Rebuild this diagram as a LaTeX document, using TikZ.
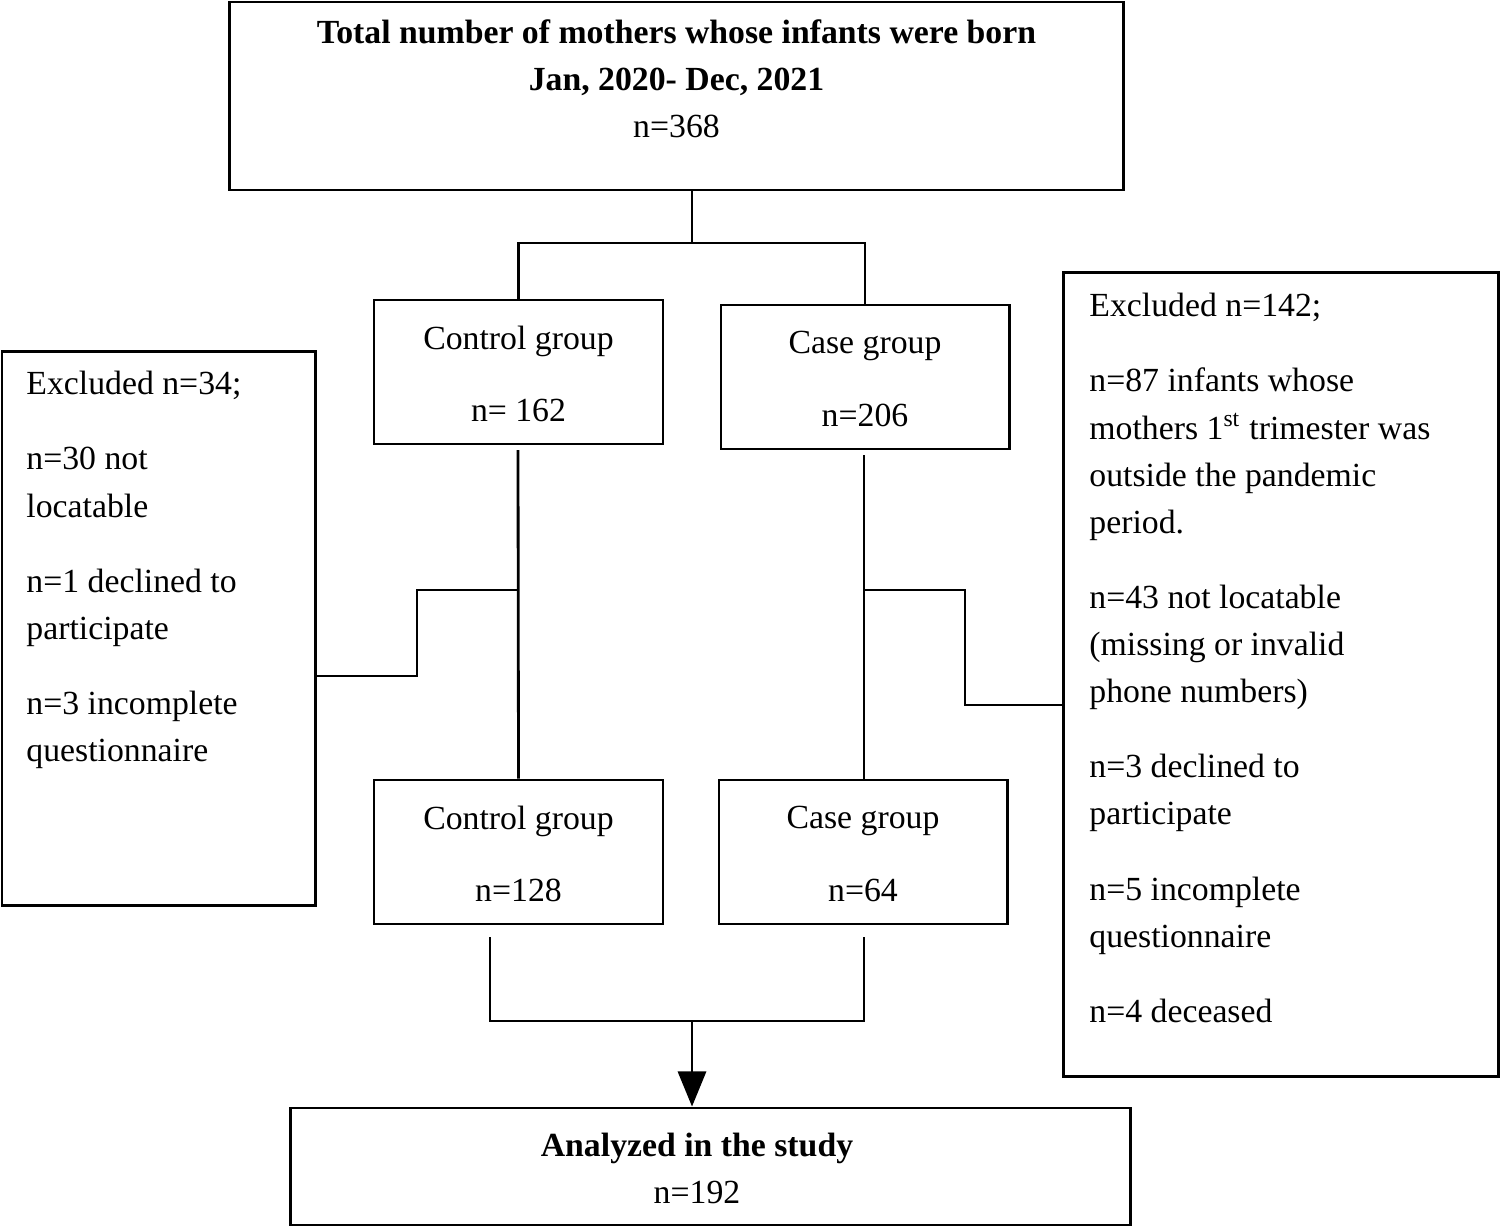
\documentclass[tikz,border=0pt]{standalone}
\usepackage{fontspec}
\setmainfont{Liberation Serif}
\usetikzlibrary{positioning,arrows.meta}
\begin{document}
\begin{tikzpicture}
  [x=0.01cm,y=-0.01cm,line width=0.8pt,
   every node/.style={font=\fontsize{9.6pt}{13.4pt}\selectfont},
   box/.style={draw,line width=0.8pt,inner sep=0pt},
   txt/.style={align=center,inner sep=0pt},
   note/.style={align=left,anchor=north west,inner sep=0pt}]
    \useasboundingbox (0,0) rectangle (1500,1227);

    \node (total) [box,minimum width=8.93cm,minimum height=1.88cm] at (676.5,96) {};
    \node (totalt)[txt,anchor=north] at (676.5,18) {\textbf{Total number of mothers whose infants were born}\\\textbf{Jan, 2020- Dec, 2021}\\n=368};

    \node (ctrla) [box,minimum width=2.89cm,minimum height=1.44cm] at (518.5,372) {};
    \node (ctrlat)[txt] at (518.5,374) {Control group\\[0.25cm]n= 162};
    \node (casea) [box,minimum width=2.88cm,minimum height=1.44cm] at (865,377) {};
    \node (caseat)[txt] at (865,379) {Case group\\[0.25cm]n=206};

    \node (ctrlb) [box,minimum width=2.89cm,minimum height=1.44cm] at (518.5,852) {};
    \node (ctrlbt)[txt] at (518.5,854) {Control group\\[0.25cm]n=128};
    \node (caseb) [box,minimum width=2.88cm,minimum height=1.44cm] at (863,852) {};
    \node (casebt)[txt] at (863,854) {Case group\\[0.25cm]n=64};

    \node (exl) [box,minimum width=3.13cm,minimum height=5.53cm] at (158.5,628.5) {};
    \node (exlt)[note] at (25,370) {Excluded n=34;\\[0.28cm]n=30 not\\locatable\\[0.28cm]n=1 declined to\\participate\\[0.28cm]n=3 incomplete\\questionnaire};

    \node (exr) [box,minimum width=4.34cm,minimum height=8.03cm] at (1281,674.5) {};
    \node (exrt)[note] at (1088,292) {Excluded n=142;\\[0.28cm]n=87 infants whose\\mothers 1\textsuperscript{st} trimester was\\outside the pandemic\\period.\\[0.28cm]n=43 not locatable\\(missing or invalid\\phone numbers)\\[0.28cm]n=3 declined to\\participate\\[0.28cm]n=5 incomplete\\questionnaire\\[0.28cm]n=4 deceased};

    \node (anal) [box,minimum width=8.39cm,minimum height=1.17cm] at (710.5,1166.5) {};
    \node (analt)[txt] at (697,1168) {\textbf{Analyzed in the study}\\n=192};

    % splits and joins
    \coordinate (split) at (692,243);
    \coordinate (join) at (692,1021);
    \draw (total.south -| split) -- (split);
    \draw (ctrla.north) |- (split) -| (casea.north);
    \draw (518,450) -- (ctrlb.north);
    \draw (864,455) -- (864,780);
    \draw (518,590) -- (417,590) |- (exl.east |- 0,676);
    \draw (864,590) -- (965,590) |- (exr.west |- 0,705);
    \draw (490,937) |- (join) -| (864,937);
    \draw[-{Triangle[length=10pt,width=8pt]}] (join) -- (join |- anal.north);
\end{tikzpicture}
\end{document}
